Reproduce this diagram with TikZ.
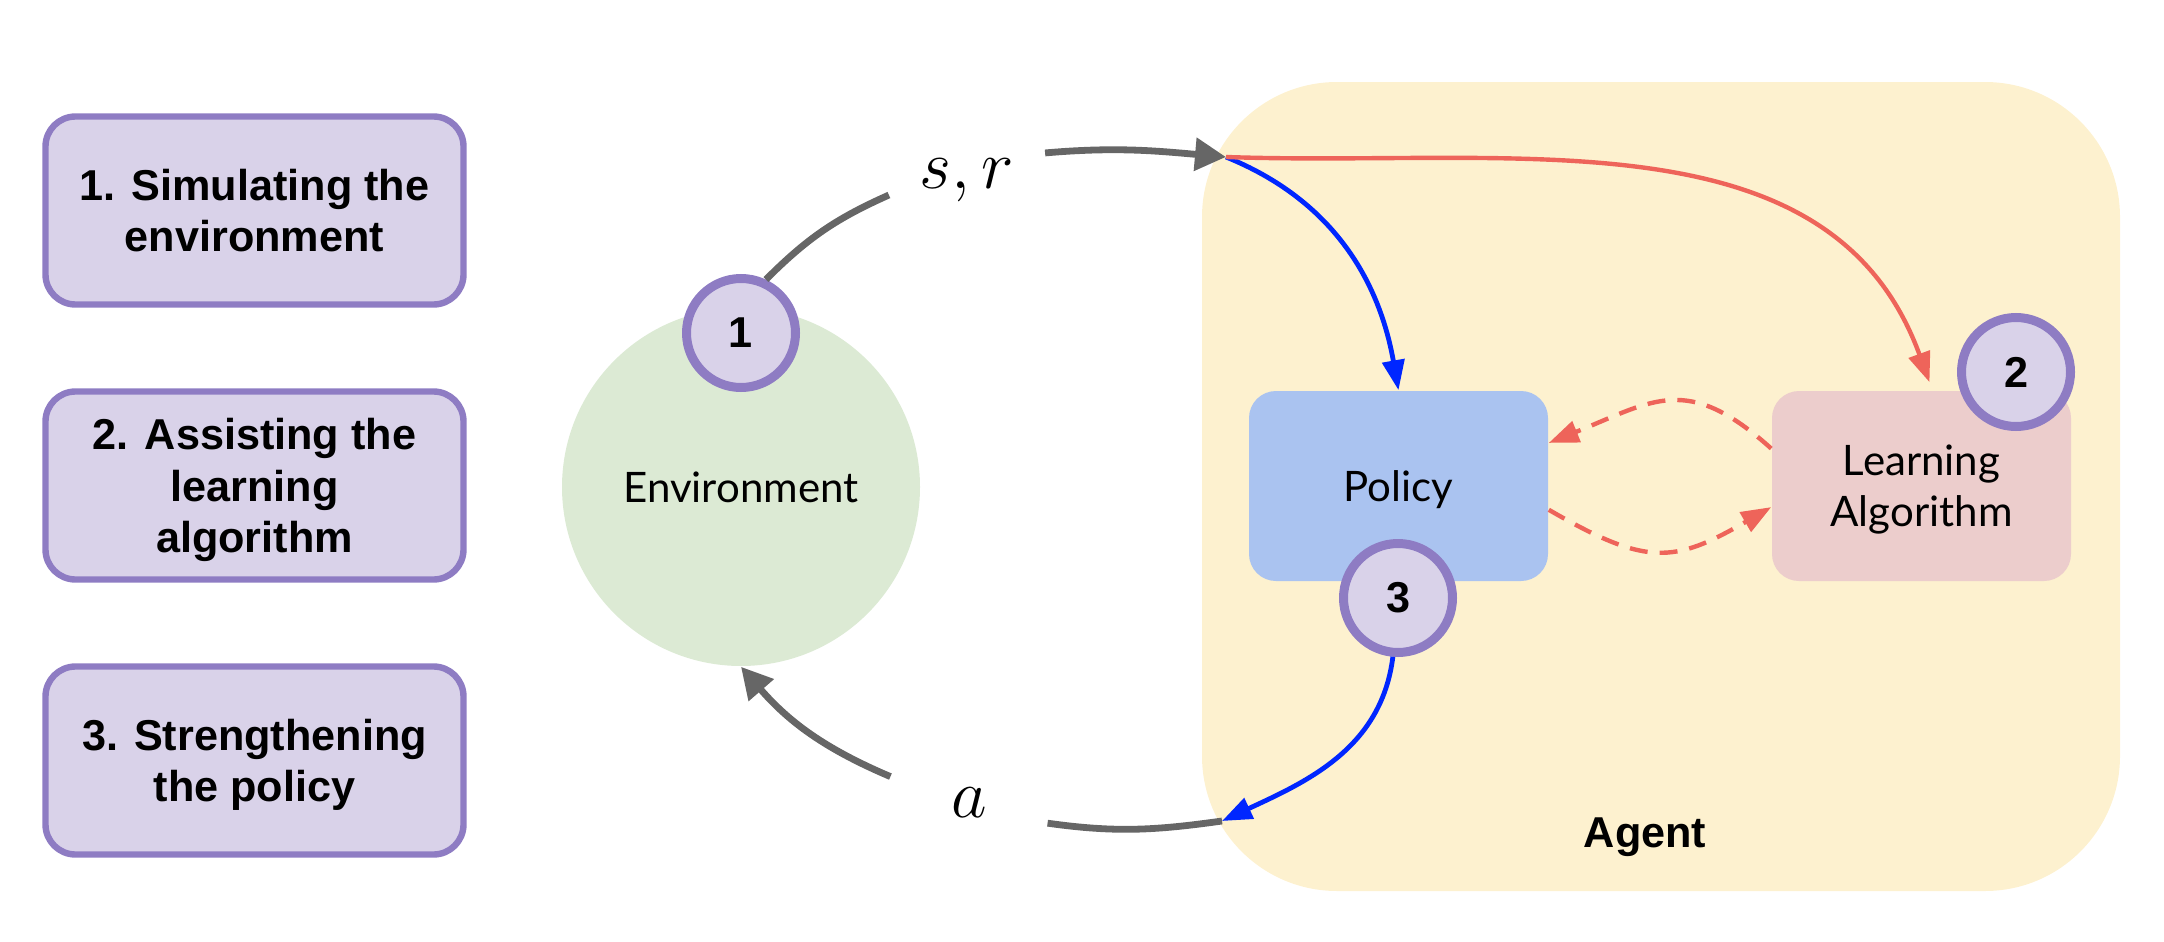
\documentclass[tikz,border=0pt]{standalone}
\usepackage{fontspec}
\setmainfont{Lato}
\newfontfamily\boldsans{Liberation Sans}
\usetikzlibrary{arrows.meta}
\definecolor{boxfill}{HTML}{D9D2E9}
\definecolor{boxline}{HTML}{8E7CC3}
\definecolor{envfill}{HTML}{DCEAD4}
\definecolor{agentfill}{HTML}{FDF1CF}
\definecolor{polfill}{HTML}{AAC3F0}
\definecolor{lafill}{HTML}{ECCDCC}
\definecolor{flowgray}{HTML}{666666}
\definecolor{learnred}{HTML}{EE645A}
\definecolor{actblue}{HTML}{0026FF}
\tikzset{
  taskbox/.style={draw=boxline, fill=boxfill, line width=1.6pt, rounded corners=7.5pt,
    minimum width=104.5pt, minimum height=47pt, align=center, inner sep=0pt, text depth=0pt,
    font=\boldsans\bfseries\fontsize{10.8}{12.8}\selectfont},
  badge/.style={circle, draw=boxline, fill=boxfill, line width=2.25pt, minimum size=27.25pt,
    inner sep=0pt, font=\boldsans\bfseries\fontsize{10.8}{13}\selectfont},
  innerbox/.style={rounded corners=6.75pt, minimum width=74.75pt, minimum height=47.5pt,
    align=center, inner sep=0pt, text depth=0pt, font=\fontsize{10.5}{12.75}\selectfont},
  agentbox/.style={fill=agentfill, rounded corners=33.75pt, minimum width=229.5pt,
    minimum height=202.25pt, inner sep=0pt},
  envcircle/.style={circle, fill=envfill, minimum size=89.5pt, inner sep=0pt, text depth=0pt,
    font=\fontsize{10.5}{12.75}\selectfont},
  mathlabel/.style={inner ysep=6pt, font=\fontsize{17.5}{20}\selectfont, anchor=base},
  flow/.style={draw=flowgray, line width=1.7pt},
  flowarrow/.style={flow, -{Triangle[length=7.75pt,width=8pt]}},
  blueflow/.style={draw=actblue, line width=1.2pt, -{Triangle[length=7.5pt,width=5.5pt]}},
  redflow/.style={draw=learnred, line width=1.1pt, -{Triangle[length=7.5pt,width=5.5pt]}},
  reddash/.style={redflow, dash pattern=on 4.5pt off 3pt}
}
\begin{document}
\begin{tikzpicture}[x=0.25pt, y=0.25pt]
\useasboundingbox (0,0) rectangle (2164,-942);
% left task boxes
\node[taskbox] (t1) at (254.5,-210.5) {1. Simulating the\\environment};
\node[taskbox] (t2) at (254.5,-485.5) {2. Assisting the\\learning\\algorithm};
\node[taskbox] (t3) at (254.5,-760.5) {3. Strengthening\\the policy};
% agent container
\node[agentbox] (agent) at (1661,-486.5) {};
\node[font=\boldsans\bfseries\fontsize{10.8}{13}\selectfont, anchor=base] (agentlabel) at (1645,-847) {Agent};
% environment
\node[envcircle] (env) at (741,-487) {Environment};
% inner boxes
\node[innerbox, fill=polfill] (policy) at (1398.5,-486) {Policy};
\node[innerbox, fill=lafill] (la) at (1921.5,-486) {Learning\\Algorithm};
% labels
\node[mathlabel, inner xsep=7.5pt] (sr) at (967,-188) {$s,r$};
\node[mathlabel, inner xsep=15pt] (sa) at (969,-817) {$a$};
% badges
\node[badge] (b1) at (741,-333) {1};
\node[badge] (b2) at (2016,-372) {2};
\node[badge] (b3) at (1398,-598) {3};
% free ends
\coordinate (obs) at (1226,-157);
\coordinate (act) at (1222,-821);
% loop
\draw[flow] (b1.65) to[out=45,in=204] (sr.191);
\draw[flow] (act) to[out=188,in=-8] (sa.-15);
\draw[flowarrow] (sa.162) to[out=157,in=-49] (env.south);
% agent internals
\draw[blueflow] (obs) to[out=-22,in=100] (policy.north);
\draw[blueflow] (b3.265) to[out=-97,in=25] (act);
\draw[redflow] (obs) to[out=-2,in=110] ([xshift=2pt,yshift=2pt]la.north);
\draw[reddash] (la.166) to[out=138,in=22,looseness=1.3] (policy.16);
\draw[reddash] (policy.-9) to[out=-30,in=210,looseness=1.3] (la.188);
\draw[flowarrow] (sr.19) to[out=5,in=175] (obs);
\end{tikzpicture}
\end{document}
